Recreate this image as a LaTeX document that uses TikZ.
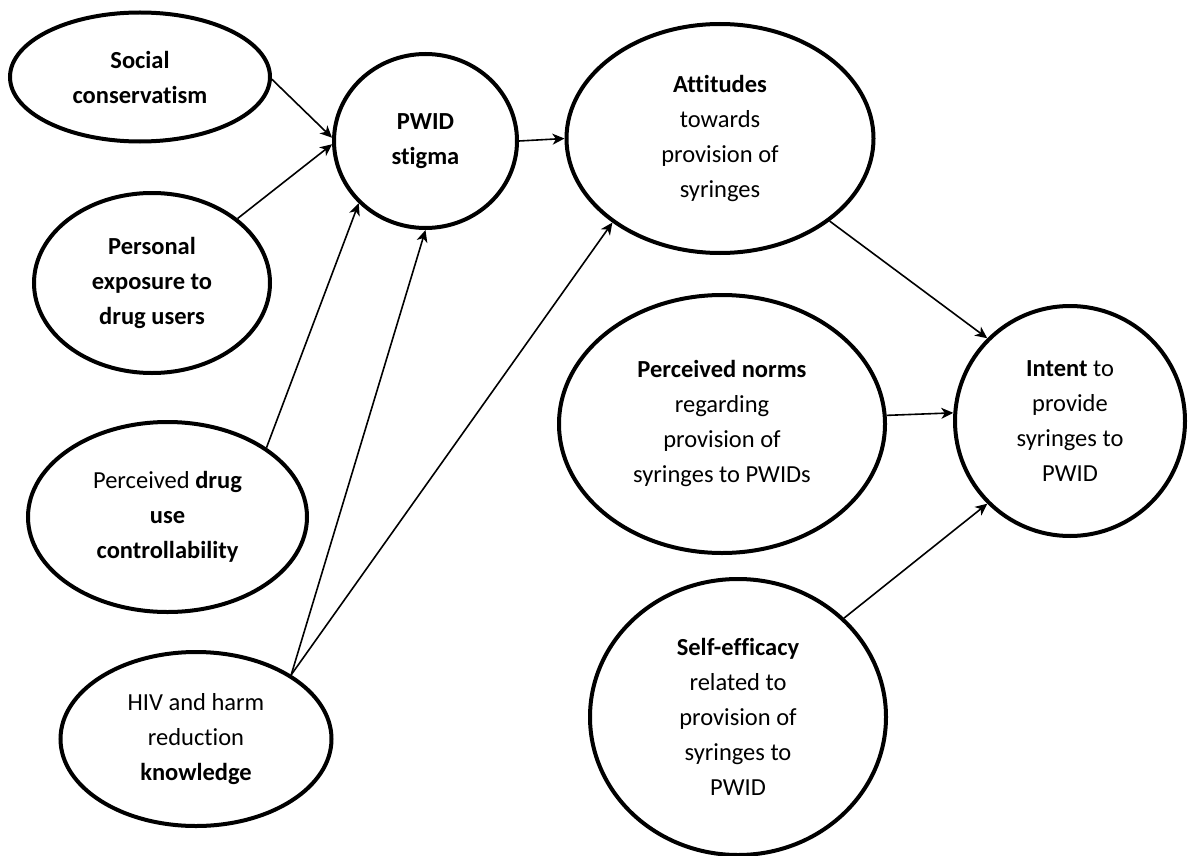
\documentclass[tikz,border=0pt]{standalone}
\usepackage{fontspec}
\setmainfont{Carlito}[Ligatures=CommonOff]
\usetikzlibrary{shapes.geometric,arrows.meta}
\begin{document}
\begin{tikzpicture}[x=1pt,y=-1pt,
  latent/.style={draw,ellipse,line width=4pt,inner sep=0pt,align=center,
    font=\fontsize{24.5}{35}\selectfont},
  link/.style={line width=1.6pt,-{Stealth[length=12pt,width=11pt,inset=3.5pt]}}]
\useasboundingbox[fill=white] (0,0) rectangle (1188,856);
\node[latent,minimum width=260pt,minimum height=129pt] (social) at (140,77)
  {\textbf{Social}\\\textbf{conservatism}};
\node[latent,minimum width=183pt,minimum height=174pt] (pwid) at (425.5,141)
  {\textbf{PWID}\\\textbf{stigma}};
\node[latent,minimum width=236pt,minimum height=180pt] (personal) at (152,283)
  {\textbf{Personal}\\\textbf{exposure to}\\\textbf{drug users}};
\node[latent,minimum width=279pt,minimum height=190pt] (drug) at (167.5,517)
  {Perceived \textbf{drug}\\\textbf{use}\\\textbf{controllability}};
\node[latent,minimum width=271pt,minimum height=174pt] (hiv) at (196,739)
  {HIV and harm\\reduction\\\textbf{knowledge}};
\node[latent,minimum width=307pt,minimum height=229pt] (att) at (720,138.5)
  {\textbf{Attitudes}\\towards\\provision of\\syringes};
\node[latent,minimum width=326pt,minimum height=258pt] (norms) at (722,424)
  {\textbf{Perceived norms}\\regarding\\provision of\\syringes to PWIDs};
\node[latent,minimum width=230pt,minimum height=230pt] (intent) at (1070,421)
  {\textbf{Intent} to\\provide\\syringes to\\PWID};
\node[latent,minimum width=296pt,minimum height=276pt] (self) at (738,717)
  {\textbf{Self-efficacy}\\related to\\provision of\\syringes to\\PWID};

\draw[link] (social.-1) -- (pwid.178);
\draw[link] (personal.37) -- (pwid.182);
\draw[link] (drug.35) -- (pwid.223);
\draw[link] (hiv.34) -- (pwid.270);
\draw[link] (hiv.34) -- (att.218);
\draw[link] (pwid.0) -- (att.180);
\draw[link] (att.-37) -- (intent.135);
\draw[link] (norms.3) -- (intent.176);
\draw[link] (self.43) -- (intent.225);
\end{tikzpicture}
\end{document}
